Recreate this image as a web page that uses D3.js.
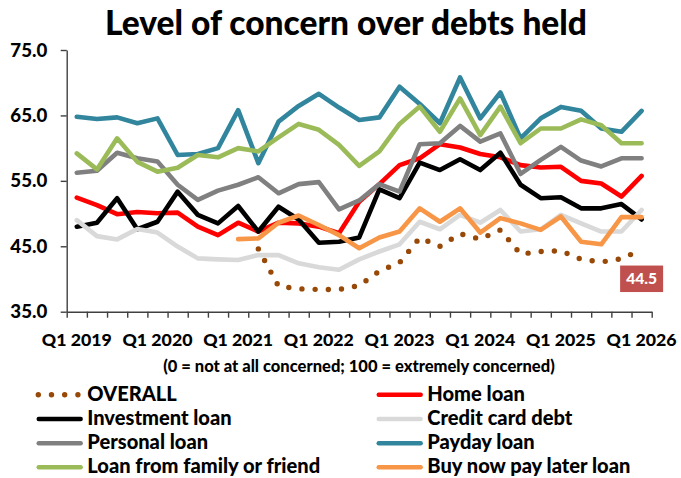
<!DOCTYPE html>
<html>
<head>
<meta charset="utf-8">
<script src="https://cdn.jsdelivr.net/npm/d3@7"></script>
<style>
  html, body { margin: 0; padding: 0; background: #fff; }
  svg { display: block; font-family: Lato, "Open Sans", sans-serif; font-weight: 900; }
</style>
</head>
<body>
<svg id="chart" width="681" height="478"></svg>
<script>
// Quarterly survey waves
const categories = [
  "Q1 2019", "Q2 2019", "Q3 2019", "Q4 2019",
  "Q1 2020", "Q2 2020", "Q3 2020", "Q4 2020",
  "Q1 2021", "Q2 2021", "Q3 2021", "Q4 2021",
  "Q1 2022", "Q2 2022", "Q3 2022", "Q4 2022",
  "Q1 2023", "Q2 2023", "Q3 2023", "Q4 2023",
  "Q1 2024", "Q2 2024", "Q3 2024", "Q4 2024",
  "Q1 2025", "Q2 2025", "Q3 2025", "Q4 2025",
  "Q1 2026"
];
const tickLabels = ["Q1 2019", "Q1 2020", "Q1 2021", "Q1 2022", "Q1 2023", "Q1 2024", "Q1 2025", "Q1 2026"];
const yTicks = [35, 45, 55, 65, 75];

// Concern index per debt type (null = not asked that wave)
const overall = [null, null, null, null, null, null, null, null, null,
  44.6, 38.9, 38.5, 38.4, 38.4, 39.0, 41.2, 42.5, 46.3, 45.0, 46.9,
  46.1, 47.5, 43.8, 44.2, 44.3, 43.0, 42.6, 43.1, 44.5];
const homeLoan = [52.45, 51.3, 49.9, 50.25, 50.05, 50.15, 48.0, 46.7, 48.6, 47.25,
  48.6, 48.5, 48.0, 47.0, 51.8, 54.5, 57.4, 58.45, 60.6, 60.1,
  59.1, 58.6, 57.4, 57.05, 57.15, 55.0, 54.6, 52.6, 55.75];
const investmentLoan = [48.0, 48.6, 52.35, 47.6, 48.75, 53.35, 49.8, 48.5, 51.15, 47.25,
  51.05, 49.1, 45.55, 45.7, 46.35, 53.7, 52.35, 57.8, 56.65, 58.3,
  56.65, 59.3, 54.4, 52.35, 52.5, 50.8, 50.8, 51.45, 49.1];
const creditCardDebt = [49.0, 46.55, 46.05, 47.65, 47.1, 44.95, 43.15, 43.0, 42.9, 43.65,
  43.65, 42.4, 41.8, 41.4, 43.0, 44.2, 45.3, 48.75, 47.6, 49.8,
  48.6, 50.55, 47.25, 47.6, 49.8, 48.5, 47.25, 47.25, 50.55];
const personalLoan = [56.25, 56.55, 59.3, 58.45, 57.95, 54.4, 52.1, 53.5, 54.4, 55.55,
  53.1, 54.5, 54.8, 50.65, 52.0, 54.5, 53.35, 60.6, 60.75, 63.4,
  61.0, 62.25, 56.05, 58.2, 60.2, 58.1, 57.2, 58.45, 58.45];
const paydayLoan = [64.8, 64.45, 64.7, 63.8, 64.55, 58.95, 59.1, 60.0, 65.8, 57.7,
  64.05, 66.45, 68.3, 66.2, 64.3, 64.7, 69.4, 66.75, 63.8, 70.8,
  64.55, 68.5, 61.5, 64.55, 66.3, 65.7, 63.0, 62.5, 65.7];
const familyLoan = [59.2, 56.75, 61.5, 57.9, 56.4, 57.0, 58.95, 58.6, 60.0, 59.5,
  61.65, 63.7, 62.8, 60.5, 57.3, 59.5, 63.7, 66.35, 62.5, 67.6,
  62.0, 66.35, 60.75, 63.0, 63.0, 64.4, 63.5, 60.75, 60.75];
const bnplLoan = [null, null, null, null, null, null, null, null,
  46.1, 46.2, 48.6, 49.7, 48.25, 46.7, 44.7, 46.35, 47.25, 50.8, 48.75, 50.8,
  47.1, 49.3, 48.5, 47.5, 49.55, 45.7, 45.3, 49.45, 49.45];

const seriesNames = ["OVERALL", "Home loan", "Investment loan", "Credit card debt",
  "Personal loan", "Payday loan", "Loan from family or friend", "Buy now pay later loan"];
const seriesValues = [overall, homeLoan, investmentLoan, creditCardDebt,
  personalLoan, paydayLoan, familyLoan, bnplLoan];
const seriesColors = ["#984807", "#FF0000", "#000000", "#D9D9D9",
  "#808080", "#31859C", "#9BBB59", "#F79646"];

const svg = d3.select("#chart");

const plot = { left: 66.7, right: 651.7, top: 50, bottom: 311.7 };

const x = d3.scaleLinear()
  .domain([-0.5, categories.length - 0.5])
  .range([plot.left, plot.right]);
const y = d3.scaleLinear()
  .domain([35, 75])
  .range([plot.bottom, plot.top]);

// Size a text selection so that a sample string spans the given width
function fitSize(sample, width, base) {
  const t = svg.append("text").attr("font-size", base).text(sample);
  const w = t.node().getComputedTextLength();
  t.remove();
  return w > 0 ? base * width / w : base;
}

const titleSize = fitSize("Level of concern over debts held", 482, 30);
const xLabelSize = fitSize("Q1 2019", 70, 18);
const yLabelSize = fitSize("35.0", 37, 18);
const noteSize = fitSize("(0 = not at all concerned; 100 = extremely concerned)", 392, 15);
const legendSize = fitSize("Loan from family or friend", 233, 18);
const valueSize = fitSize("44.5", 31, 15);

// Title
svg.append("text")
  .attr("x", 346).attr("y", 35)
  .attr("text-anchor", "middle")
  .attr("font-size", titleSize)
  .attr("fill", "#000")
  .text("Level of concern over debts held");

// Y axis
const yAxis = svg.append("g")
  .attr("transform", `translate(${plot.left},0)`)
  .call(d3.axisLeft(y).tickValues(yTicks).tickFormat(d3.format(".1f"))
    .tickSize(6).tickPadding(13.4).tickSizeOuter(0));
yAxis.select(".domain").attr("stroke", "#404040").attr("stroke-width", 1.4);
yAxis.selectAll(".tick line").attr("stroke", "#404040").attr("stroke-width", 1.4);
yAxis.selectAll(".tick text")
  .attr("font-size", yLabelSize).attr("font-weight", 900).attr("fill", "#000")
  .attr("font-family", "Lato, sans-serif");

// X axis: tick marks between categories
const xAxis = svg.append("g")
  .attr("transform", `translate(0,${plot.bottom})`)
  .call(d3.axisBottom(x).tickValues(d3.range(-0.5, categories.length, 1))
    .tickFormat("").tickSize(6).tickSizeOuter(0));
xAxis.select(".domain").attr("stroke", "#404040").attr("stroke-width", 1.4);
xAxis.selectAll(".tick line").attr("stroke", "#404040").attr("stroke-width", 1.4);

svg.append("g")
  .selectAll("text")
  .data(categories.map((c, i) => ({ c, i })).filter(d => tickLabels.includes(d.c)))
  .join("text")
  .attr("x", d => x(d.i))
  .attr("y", 346)
  .attr("text-anchor", "middle")
  .attr("font-size", xLabelSize)
  .attr("fill", "#000")
  .text(d => d.c);

// Scale note under the axis
svg.append("text")
  .attr("x", 359).attr("y", 372)
  .attr("text-anchor", "middle")
  .attr("font-size", noteSize)
  .attr("fill", "#000")
  .text("(0 = not at all concerned; 100 = extremely concerned)");

// Series lines
const line = d3.line()
  .defined(d => d.v !== null)
  .x(d => x(d.i))
  .y(d => y(d.v));

const lines = svg.append("g");
seriesValues.forEach((vals, k) => {
  const pts = vals.map((v, i) => ({ v, i }));
  const path = lines.append("path")
    .datum(pts)
    .attr("d", line)
    .attr("fill", "none")
    .attr("stroke", seriesColors[k])
    .attr("stroke-linejoin", "round")
    .attr("stroke-linecap", "round");
  if (k === 0) {
    path.attr("stroke-width", 5.4).attr("stroke-dasharray", "0 13.2");
  } else {
    path.attr("stroke-width", 4.6);
  }
});

// Latest overall value label
const lastIdx = overall.length - 1;
const lastVal = overall[lastIdx];
const lbl = svg.append("g")
  .attr("transform", `translate(${x(lastIdx)},${y(lastVal) + 16})`);
lbl.append("rect")
  .attr("x", -21.5).attr("y", 0)
  .attr("width", 43).attr("height", 26.5)
  .attr("fill", "#C0504D");
lbl.append("text")
  .attr("x", 0).attr("y", 18.5)
  .attr("text-anchor", "middle")
  .attr("font-size", valueSize)
  .attr("fill", "#fff")
  .text(d3.format(".1f")(lastVal));

// Legend, two columns filled row by row
const legend = svg.append("g");
const legCols = [36.7, 376.7];
const legRows = [400.7, 425, 449.2, 473.3];
seriesNames.forEach((name, k) => {
  const col = k % 2, row = Math.floor(k / 2);
  const gx = legCols[col], gy = legRows[row];
  const sample = legend.append("line")
    .attr("x1", gx + 2).attr("x2", gx + 44)
    .attr("y1", gy - 6).attr("y2", gy - 6)
    .attr("stroke", seriesColors[k])
    .attr("stroke-linecap", "round");
  if (k === 0) {
    sample.attr("x1", gx + 1.6).attr("x2", gx + 42.5)
      .attr("stroke-width", 5.4).attr("stroke-dasharray", "0 13.2");
  } else {
    sample.attr("stroke-width", 4.4);
  }
  legend.append("text")
    .attr("x", gx + 50.6).attr("y", gy)
    .attr("font-size", legendSize)
    .attr("fill", "#000")
    .text(name);
});
</script>
</body>
</html>
